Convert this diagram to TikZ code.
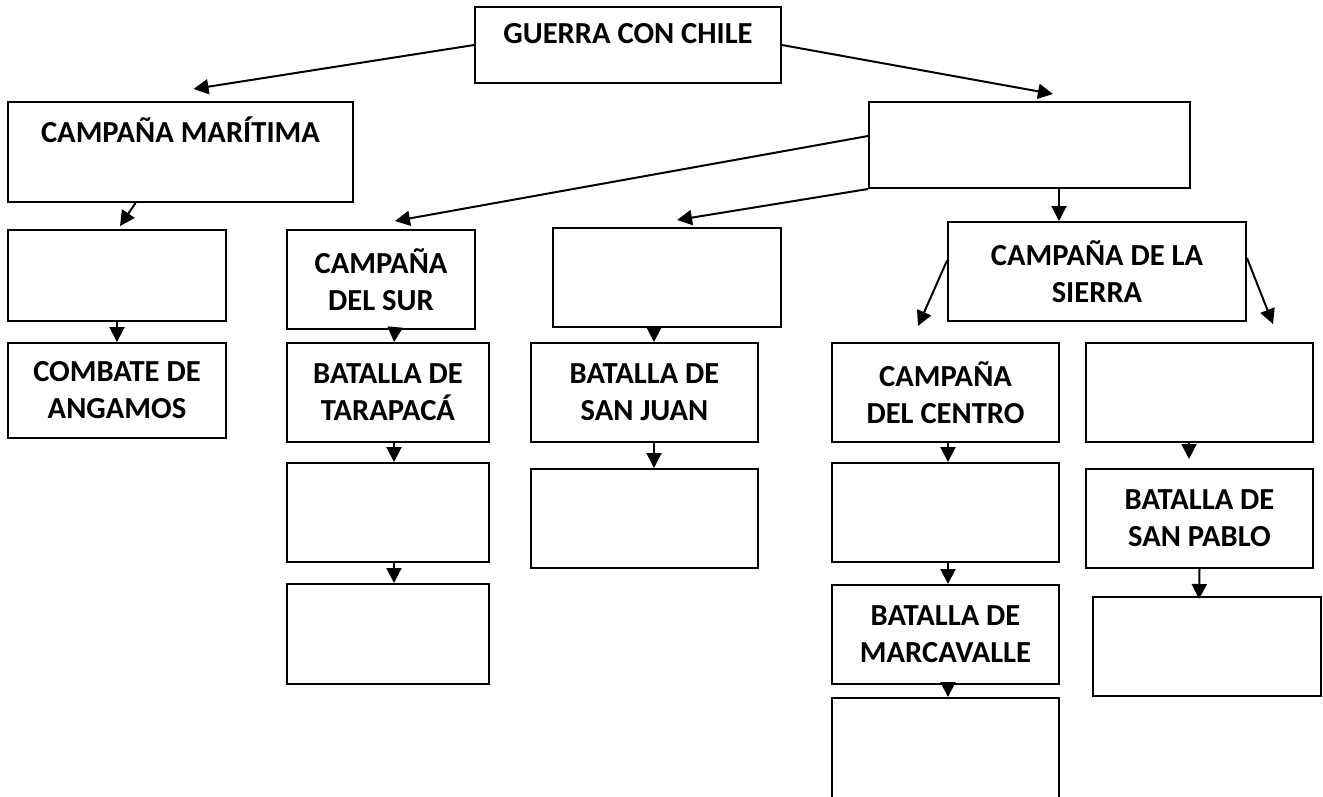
\documentclass[tikz,border=0pt]{standalone}
\usepackage{fontspec}
\setmainfont{Carlito}
\usetikzlibrary{arrows.meta}
\usetikzlibrary{positioning}

\begin{document}
\begin{tikzpicture}[x=0.02cm,y=-0.02cm,
  caja/.style 2 args={draw=black,line width=0.04cm,align=center,inner sep=0pt,
    font=\fontsize{17.4}{21}\selectfont\bfseries,minimum width=#1,minimum height=#2},
  arriba/.style={text height=11.5pt,text depth=#1},
  flecha/.style={-{Triangle[length=0.3cm,width=0.3cm]},line width=0.04cm}]
\clip (0,0) rectangle (1323,796);

% primer nivel
\node[caja={6.12cm}{1.52cm},arriba=0.48cm] (guerra) at (628,45) {GUERRA CON CHILE};
\node[caja={6.9cm}{2cm},arriba=0.8cm] (maritima) at (180.5,152) {CAMPAÑA MARÍTIMA};
\node[caja={6.42cm}{1.72cm}] (terrestre) at (1029.5,145) {};

% campana maritima
\node[caja={4.36cm}{1.82cm}] (maritimab) at (117,275.5) {};
\node[caja={4.36cm}{1.9cm}] (angamos) at (117,390.5) {COMBATE DE\\ANGAMOS};

% campana del sur
\node[caja={3.76cm}{1.98cm}] (sur) at (381,279.5) {CAMPAÑA\\DEL SUR};
\node[caja={4.04cm}{1.98cm}] (tarapaca) at (388,392.5) {BATALLA DE\\TARAPACÁ};
\node[caja={4.04cm}{1.98cm}] (surc) at (388,512.5) {};
\node[caja={4.04cm}{2cm}] (surd) at (388,634) {};

% lima
\node[caja={4.56cm}{1.98cm}] (lima) at (667,277.5) {};
\node[caja={4.54cm}{1.98cm}] (sanjuan) at (644.5,392.5) {BATALLA DE\\SAN JUAN};
\node[caja={4.54cm}{1.98cm}] (sanjuanb) at (644.5,518.5) {};

% campana de la sierra
\node[caja={5.96cm}{1.98cm}] (sierra) at (1097,271.5) {CAMPAÑA DE LA\\SIERRA};
\node[caja={4.54cm}{1.98cm}] (centro) at (945.5,392.5) {CAMPAÑA\\DEL CENTRO};
\node[caja={4.54cm}{1.98cm}] (centrob) at (945.5,512.5) {};
\node[caja={4.54cm}{1.98cm}] (marcavalle) at (945.5,634.5) {BATALLA DE\\MARCAVALLE};
\node[caja={4.54cm}{2.2cm}] (centrod) at (945.5,753) {};
\node[caja={4.54cm}{1.98cm}] (norte) at (1199.5,392.5) {};
\node[caja={4.54cm}{1.98cm}] (sanpablo) at (1199.5,518.5) {BATALLA DE\\SAN PABLO};
\node[caja={4.56cm}{1.98cm}] (sanpablob) at (1207,646.5) {};

% flechas diagonales
\draw[flecha] (guerra.west) -- ([xshift=0.26cm,yshift=0.24cm]maritima.north);
\draw[flecha] (guerra.east) -- ([xshift=0.47cm,yshift=0.14cm]terrestre.north);
\draw[flecha] ([xshift=-0.9cm]maritima.south) -- ([xshift=0.06cm,yshift=0.06cm]maritimab.north);
\draw[flecha] ([yshift=0.18cm]terrestre.west) -- ([xshift=0.28cm,yshift=0.16cm]sur.north);
\draw[flecha] (terrestre.south west) -- ([xshift=0.2cm,yshift=0.14cm]lima.north);
\coordinate (ts) at ([xshift=0.59cm]terrestre.south);
\draw[flecha] (ts) -- (ts |- sierra.north);
\draw[flecha] ([yshift=0.22cm]sierra.west) -- ([xshift=-0.55cm,yshift=0.32cm]centro.north);
\draw[flecha] ([yshift=0.27cm]sierra.east) -- ([xshift=1.47cm,yshift=0.36cm]norte.north);

% flechas verticales
\foreach \a/\sa/\b/\sb in {maritimab/0/angamos/0, sur/0.28/tarapaca/0.12,
  tarapaca/0.12/surc/0.12, surc/0.12/surd/0.12, lima/-0.26/sanjuan/0.19,
  sanjuan/0.19/sanjuanb/0.19, centro/0.05/centrob/0.05, centrob/0.05/marcavalle/0.05,
  marcavalle/0.05/centrod/0.05}
  \draw[flecha] ([xshift=\sa cm]\a.south) -- ([xshift=\sb cm]\b.north);
\draw[flecha] ([xshift=-0.21cm]norte.south) -- ([xshift=-0.21cm,yshift=0.18cm]sanpablo.north);
\draw[flecha] (sanpablo.south) -- ([xshift=-0.16cm,yshift=-0.06cm]sanpablob.north);

\end{tikzpicture}
\end{document}
